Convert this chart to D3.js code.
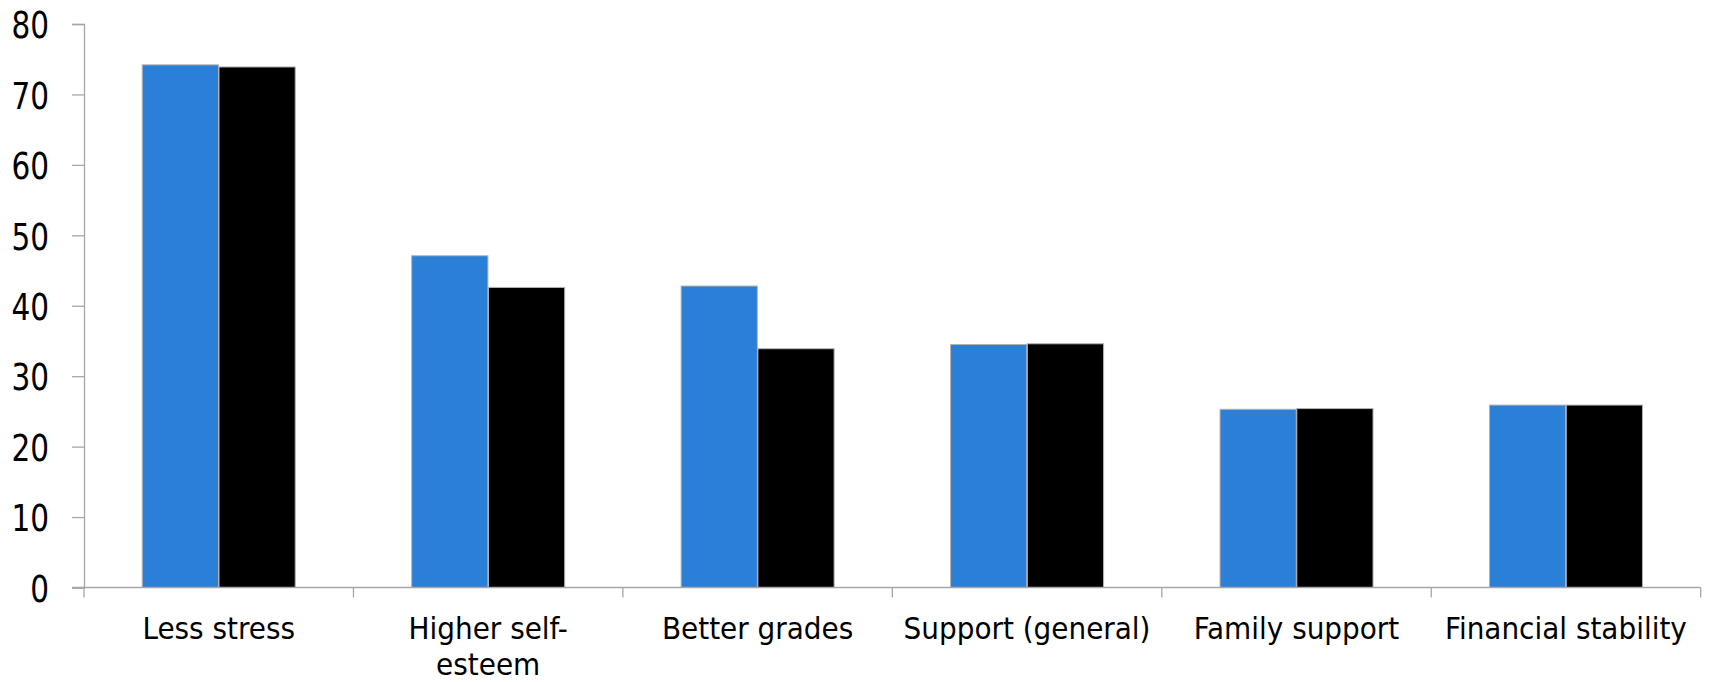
<!DOCTYPE html>
<html><head><meta charset="utf-8">
<script src="https://cdn.jsdelivr.net/npm/d3@7"></script>
<style>body{margin:0;background:#fff}</style>
</head><body><svg id="s" width="1714" height="682"></svg>
<script>
const categories=["Less stress","Higher self-esteem","Better grades","Support (general)","Family support","Financial stability"];
const labelLines=[["Less stress"],["Higher self-","esteem"],["Better grades"],["Support (general)"],["Family support"],["Financial stability"]];
const seriesA=[74.2,47.1,42.8,34.5,25.3,25.9];
const seriesB=[73.9,42.6,33.9,34.6,25.4,25.9];
const yTicks=[0,10,20,30,40,50,60,70,80];
const seriesColors=["#2a7fd7","#000000"];

const svg=d3.select("#s");
const x0=84, x1=1700.7, yTop=24, yBot=587.5;
const x=d3.scaleBand().domain(categories).range([x0,x1]).paddingInner(0).paddingOuter(0);
const y=d3.scaleLinear().domain([0,80]).range([yBot,yTop]);
const sub=d3.scaleBand().domain([0,1]).range([0,153]).paddingInner(0.0066);
const axisColor="#a6a6a6";

// y axis
const ya=svg.append("g").attr("transform",`translate(${x0},0)`)
  .call(d3.axisLeft(y).tickValues(yTicks).tickSize(12).tickPadding(23).tickFormat(d3.format("d")));
ya.select(".domain").attr("stroke",axisColor).attr("stroke-width",1.3);
ya.selectAll(".tick line").attr("stroke",axisColor).attr("stroke-width",1.3);
ya.selectAll(".tick text").attr("font-family","DejaVu Sans Condensed").attr("font-size",38).attr("fill","#000").attr("dy","0.36em")
  .attr("textLength",d=>String(d).length*18.8).attr("lengthAdjust","spacingAndGlyphs");

// bars
const groups=svg.append("g").selectAll("g").data(categories).join("g")
  .attr("transform",d=>`translate(${x(d)+x.bandwidth()/2-76.5},0)`);
[seriesA,seriesB].forEach((vals,si)=>{
  groups.append("rect")
    .attr("x",sub(si)).attr("width",sub.bandwidth())
    .attr("y",(d,i)=>y(vals[i])).attr("height",(d,i)=>y(0)-y(vals[i]))
    .attr("fill",seriesColors[si]).attr("stroke","#b3b3b3").attr("stroke-width",1);
});

// x axis
svg.append("line").attr("x1",72).attr("x2",x1).attr("y1",yBot).attr("y2",yBot).attr("stroke",axisColor).attr("stroke-width",1.3);
const bounds=categories.map(c=>x(c)).concat([x1]);
svg.append("g").selectAll("line").data(bounds).join("line")
  .attr("x1",d=>d).attr("x2",d=>d).attr("y1",yBot).attr("y2",yBot+10)
  .attr("stroke",axisColor).attr("stroke-width",1.3);
const lbl=svg.append("g").selectAll("text").data(categories).join("text")
  .attr("x",d=>x(d)+x.bandwidth()/2).attr("y",639)
  .attr("text-anchor","middle").attr("font-family","DejaVu Sans Condensed").attr("font-size",31).attr("fill","#000");
lbl.each(function(d,i){
  d3.select(this).selectAll("tspan").data(labelLines[i]).join("tspan")
    .attr("x",x(d)+x.bandwidth()/2).attr("dy",(t,j)=>j===0?0:36).text(t=>t);
});
</script></body></html>
